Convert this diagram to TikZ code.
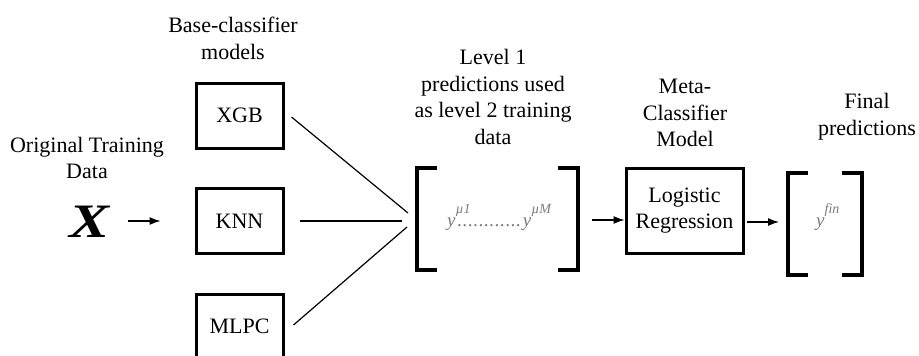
\documentclass[tikz,border=0pt]{standalone}
\usepackage{fontspec}
\setmainfont{Liberation Serif}
\usetikzlibrary{arrows.meta}
\definecolor{ygray}{HTML}{7A7A7A}
\newcommand{\dotkern}{.\kern0.6pt}
\newcommand{\dotrow}{\kern2pt\dotkern\dotkern\dotkern\dotkern\dotkern\dotkern\dotkern\dotkern\dotkern\dotkern\dotkern\dotkern\kern1pt}
\newcommand{\ysupx}[1]{y\rlap{\raisebox{13pt}{\fontsize{14}{14}\selectfont #1}}}
\begin{document}
\begin{tikzpicture}[x=1pt,y=-1pt,
  lbl/.style={align=center,inner sep=0pt,font=\fontsize{22}{26.7}\selectfont},
  modelbox/.style={draw,line width=3pt,minimum width=87pt,minimum height=65pt,inner sep=0pt,align=center,font=\fontsize{22}{26.7}\selectfont},
  conn/.style={line width=1.2pt},
  arr/.style={line width=1.2pt,-{Latex[length=11pt,width=8pt]}},
  brk/.style={line width=3.8pt},
  frame/.style={inner sep=0pt,outer sep=0pt},
  ytext/.style={inner sep=0pt,anchor=base west,text=ygray,font=\fontsize{19}{19}\selectfont\itshape}]
\useasboundingbox (0,0) rectangle (919,356);
\clip (0,0) rectangle (919,356);

% labels
\node[lbl] (lbase) at (233,38.5) {Base-classifier\\models};
\node[lbl] (lorig) at (87,158) {Original Training\\Data};
\node[lbl] (llev) at (493,97) {Level 1\\predictions used\\as level 2 training\\data};
\node[lbl] (lmeta) at (685,113) {Meta-\\Classifier\\Model};
\node[lbl] (lfin) at (867,116.5) {Final\\predictions};

% input
\node[inner sep=0pt,font=\fontsize{48}{48}\selectfont\bfseries\itshape] (xin) at (90,222) {\scalebox{1.25}[1]{X}};

% base models
\node[modelbox] (xgb) at (239.5,115.5) {XGB};
\node[modelbox] (knn) at (239.5,221) {KNN};
\node[modelbox] (mlpc) at (239.5,326.5) {MLPC};

% level-1 predictions bracket
\node[frame,minimum width=161pt,minimum height=102pt] (lvl) at (497.5,219) {};
\draw[brk] ([xshift=20pt]lvl.north west) -- (lvl.north west) -- (lvl.south west) -- ([xshift=20pt]lvl.south west);
\draw[brk] ([xshift=-20pt]lvl.north east) -- (lvl.north east) -- (lvl.south east) -- ([xshift=-20pt]lvl.south east);
\node[ytext] (ymu) at (447,226) {\ysupx{\textmu 1}\dotrow\ysupx{\textmu M}};

% meta classifier
\node[modelbox,minimum width=117pt,minimum height=85pt] (lr) at (684.5,210.5) {Logistic\\Regression};

% final predictions bracket
\node[frame,minimum width=74pt,minimum height=102pt] (fin) at (825,224) {};
\draw[brk] ([xshift=20pt]fin.north west) -- (fin.north west) -- (fin.south west) -- ([xshift=20pt]fin.south west);
\draw[brk] ([xshift=-20pt]fin.north east) -- (fin.north east) -- (fin.south east) -- ([xshift=-20pt]fin.south east);
\node[ytext] (yfin) at (816,226) {\ysupx{fin}};

% connectors
\draw[arr] ([shift={(38,-1)}]xin.center) -- ([xshift=-34pt]knn.west);
\draw[conn] ([shift={(7,1.5)}]xgb.east) -- ([shift={(-9,-6)}]lvl.west);
\draw[conn] ([shift={(15,0)}]knn.east) -- ([shift={(-15,2)}]lvl.west);
\draw[conn] ([shift={(9,-1.5)}]mlpc.east) -- ([shift={(-10,8)}]lvl.west);
\draw[arr] ([shift={(14,1)}]lvl.east) -- (lr.west |- 0,220);
\draw[arr] ([shift={(2,11.5)}]lr.east) -- ([shift={(-9,-2)}]fin.west);
\end{tikzpicture}
\end{document}
